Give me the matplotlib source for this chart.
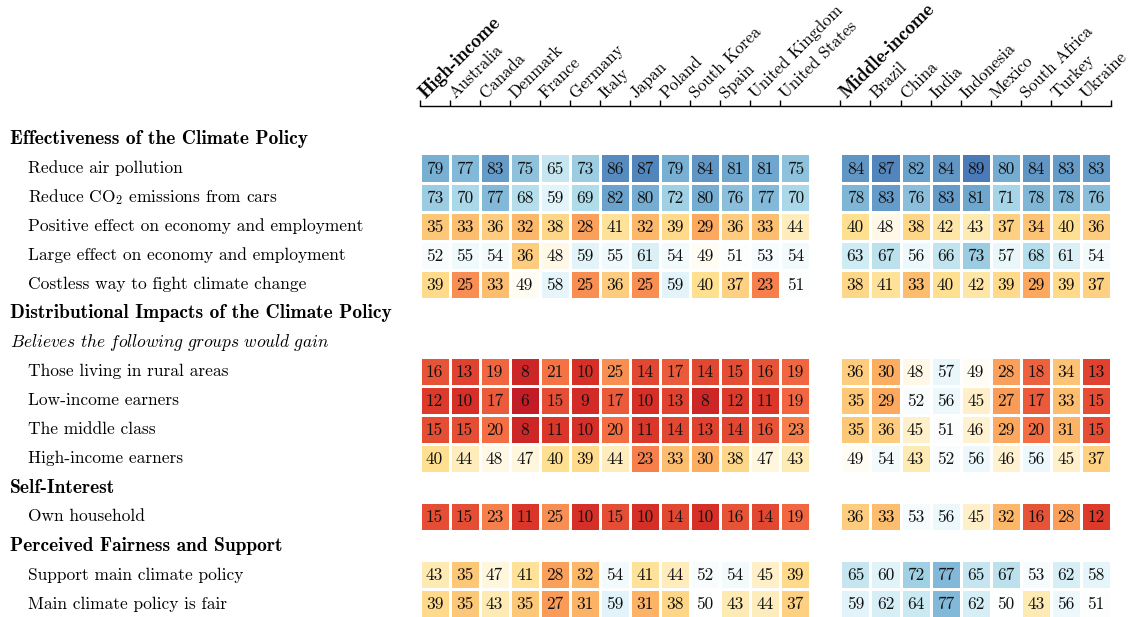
import matplotlib
matplotlib.use("Agg")
import matplotlib.pyplot as plt
import matplotlib.transforms as mtransforms
from matplotlib.colors import LinearSegmentedColormap
import numpy as np

plt.rcParams['font.family'] = 'cmr10'
plt.rcParams['mathtext.fontset'] = 'cm'
plt.rcParams['axes.formatter.use_mathtext'] = True

high_cols = ["High-income", "Australia", "Canada", "Denmark", "France", "Germany",
             "Italy", "Japan", "Poland", "South Korea", "Spain", "United Kingdom",
             "United States"]
mid_cols = ["Middle-income", "Brazil", "China", "India", "Indonesia", "Mexico",
            "South Africa", "Turkey", "Ukraine"]

# kind: h = section header, n = italic note, r = data row
row_kinds = ["h", "r", "r", "r", "r", "r", "h", "n", "r", "r", "r", "r", "h", "r", "h", "r", "r"]
row_labels = [
    "Effectiveness of the Climate Policy",
    "Reduce air pollution",
    r"Reduce CO$_2$ emissions from cars",
    "Positive effect on economy and employment",
    "Large effect on economy and employment",
    "Costless way to fight climate change",
    "Distributional Impacts of the Climate Policy",
    r"$\mathit{Believes\ the\ following\ groups\ would\ gain}$",
    "Those living in rural areas",
    "Low-income earners",
    "The middle class",
    "High-income earners",
    "Self-Interest",
    "Own household",
    "Perceived Fairness and Support",
    "Support main climate policy",
    "Main climate policy is fair",
]

high_values = [
    [79, 77, 83, 75, 65, 73, 86, 87, 79, 84, 81, 81, 75],
    [73, 70, 77, 68, 59, 69, 82, 80, 72, 80, 76, 77, 70],
    [35, 33, 36, 32, 38, 28, 41, 32, 39, 29, 36, 33, 44],
    [52, 55, 54, 36, 48, 59, 55, 61, 54, 49, 51, 53, 54],
    [39, 25, 33, 49, 58, 25, 36, 25, 59, 40, 37, 23, 51],
    [16, 13, 19, 8, 21, 10, 25, 14, 17, 14, 15, 16, 19],
    [12, 10, 17, 6, 15, 9, 17, 10, 13, 8, 12, 11, 19],
    [15, 15, 20, 8, 11, 10, 20, 11, 14, 13, 14, 16, 23],
    [40, 44, 48, 47, 40, 39, 44, 23, 33, 30, 38, 47, 43],
    [15, 15, 23, 11, 25, 10, 15, 10, 14, 10, 16, 14, 19],
    [43, 35, 47, 41, 28, 32, 54, 41, 44, 52, 54, 45, 39],
    [39, 35, 43, 35, 27, 31, 59, 31, 38, 50, 43, 44, 37],
]
mid_values = [
    [84, 87, 82, 84, 89, 80, 84, 83, 83],
    [78, 83, 76, 83, 81, 71, 78, 78, 76],
    [40, 48, 38, 42, 43, 37, 34, 40, 36],
    [63, 67, 56, 66, 73, 57, 68, 61, 54],
    [38, 41, 33, 40, 42, 39, 29, 39, 37],
    [36, 30, 48, 57, 49, 28, 18, 34, 13],
    [35, 29, 52, 56, 45, 27, 17, 33, 15],
    [35, 36, 45, 51, 46, 29, 20, 31, 15],
    [49, 54, 43, 52, 56, 46, 56, 45, 37],
    [36, 33, 53, 56, 45, 32, 16, 28, 12],
    [65, 60, 72, 77, 65, 67, 53, 62, 58],
    [59, 62, 64, 77, 62, 50, 43, 56, 51],
]

n_rows = len(row_labels)
n_high = len(high_cols)
n_cols = n_high + 1 + len(mid_cols)  # one empty column between groups
col_labels = high_cols + [""] + mid_cols

grid = np.full((n_rows, n_cols), np.nan)
k = 0
for i, kind in enumerate(row_kinds):
    if kind == "r":
        grid[i, :n_high] = high_values[k]
        grid[i, n_high + 1:] = mid_values[k]
        k += 1

cmap = LinearSegmentedColormap.from_list("rdwbu", [
    "#a50026", "#d73027", "#f46d43", "#fdae61", "#fee090", "#ffffff",
    "#e0f3f8", "#abd9e9", "#74add1", "#4575b4", "#313695"])

W, H = 1130, 617
left_px, right_px, top_px, bottom_px = 419.5, 1111, 106, 617
fig = plt.figure(figsize=(W / 100, H / 100), dpi=100)
ax = fig.add_axes([left_px / W, 1 - bottom_px / H,
                   (right_px - left_px) / W, (bottom_px - top_px) / H])

ax.pcolormesh(np.arange(n_cols + 1), np.arange(n_rows + 1) - 0.5,
              np.ma.masked_invalid(grid), cmap=cmap, vmin=0, vmax=100,
              edgecolors="white", linewidth=0.8)

ytop = -1.134
ax.set_xlim(0, n_cols)
ax.set_ylim(16.45, ytop)

for i in range(n_rows):
    for j in range(n_cols):
        if not np.isnan(grid[i, j]):
            ax.text(j + 0.5, i + 0.03, "%d" % grid[i, j], ha="center", va="center",
                    fontsize=12.5, color="#111111")

for s in ["left", "right", "bottom"]:
    ax.spines[s].set_visible(False)
ax.spines["top"].set_linewidth(1.0)
ticks = [j for j in range(n_cols) if col_labels[j] != ""] + [n_cols]
ax.xaxis.tick_top()
ax.set_xticks(ticks)
ax.tick_params(axis="x", direction="out", length=4, width=1,
               labeltop=False, labelbottom=False)
ax.set_yticks([])

for j, lab in enumerate(col_labels):
    if lab == "":
        continue
    bold = lab in ("High-income", "Middle-income")
    ax.text(j + 0.2, ytop - 0.25, lab, rotation=45, rotation_mode="anchor",
            ha="left", va="baseline", fontsize=14 if bold else 12.2,
            family="cmb10" if bold else "cmr10")

trans = mtransforms.blended_transform_factory(fig.transFigure, ax.transData)
for i, (lab, kind) in enumerate(zip(row_labels, row_kinds)):
    if kind == "h":
        ax.text(10 / W, i, lab, transform=trans, ha="left", va="center",
                fontsize=14, family="cmb10")
    elif kind == "n":
        ax.text(10 / W, i, lab, transform=trans, ha="left", va="center",
                fontsize=12.5)
    else:
        ax.text(28 / W, i, lab, transform=trans, ha="left", va="center",
                fontsize=12.5)

fig.savefig("out.png", dpi=100)
